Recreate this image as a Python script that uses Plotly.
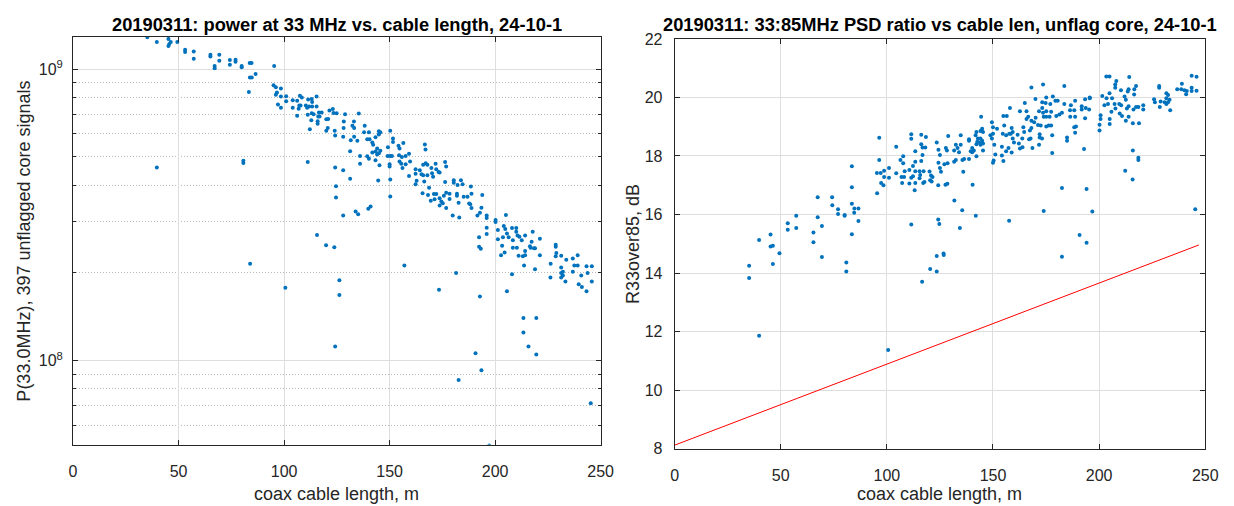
import plotly.graph_objects as go

W, H = 1234, 506

# ---------------- data ----------------
# left panel: coax cable length (m) and power at 33 MHz (units of 1e8)
power_len = [
    35.2, 39.7, 45.2, 46.3, 45.2, 45.6, 49.4, 53.1, 53.1, 57.2, 57.2, 65.1, 65.1, 69.3, 69.3, 67.1, 67.1,
    74.3, 74.3, 77.0, 77.0, 79.9, 79.9, 83.7, 84.6, 83.8, 84.7, 86.5, 95.3, 83.3, 95.0, 96.1, 98.5, 96.6,
    96.1, 98.5, 101.0, 101.0, 97.1, 98.5, 104.1, 106.2, 107.5, 108.4, 104.1, 107.2, 107.8, 106.9, 106.2,
    111.4, 113.1, 115.4, 113.3, 110.3, 110.9, 111.9, 113.3, 115.4, 113.1, 111.2, 114.0, 116.5, 117.8,
    116.2, 116.8, 112.9, 115.9, 115.9, 120.0, 120.9, 121.5, 123.1, 123.4, 124.9, 112.2, 120.7, 120.0,
    124.0, 124.2, 111.2, 39.7, 80.7, 80.7, 124.2, 124.6, 124.6, 115.6, 119.9, 123.8,
    128.9, 135.4, 128.3, 133.1,
    128.2, 132.4, 133.2, 138.2, 137.9, 140.2, 144.9, 145.6, 144.9, 128.0, 131.6, 133.2, 134.7, 139.4,
    140.5, 141.8, 143.3, 142.2, 150.3, 151.6, 151.6, 154.2, 154.7, 156.5, 149.2, 166.7, 167.0, 144.1,
    143.3, 144.9, 145.6, 144.1, 141.8, 139.4, 140.2, 136.0, 131.3, 136.0, 143.3, 145.2, 149.1, 150.3,
    151.1, 150.0, 150.0, 154.5, 155.8, 157.6, 159.2, 154.7, 155.5, 157.6, 156.1, 159.7, 159.2, 150.3,
    150.3, 144.6, 162.3, 162.3, 162.3, 162.8, 164.3, 165.1, 165.9, 167.1, 167.9, 165.9, 166.4, 167.9,
    168.7, 169.8, 170.1, 170.6, 171.8, 172.1, 173.2, 173.7, 176.3, 176.8, 176.3, 165.6, 168.2, 171.0,
    172.1, 169.5, 171.3, 173.7, 174.5, 173.7, 175.2, 175.7, 176.8, 178.4, 178.4, 176.8, 179.9, 180.4,
    180.4, 182.2, 181.9, 181.9, 182.7, 183.8, 184.6, 185.1, 183.0, 186.9, 188.5, 188.8, 187.7, 188.8,
    188.2, 193.9, 193.5, 192.8, 191.6, 196.0, 196.0, 192.4, 196.0, 196.0, 192.4, 193.2, 200.2, 200.2,
    201.3, 201.3, 204.1, 205.1, 204.8, 205.6, 206.4, 203.7, 203.3, 202.8, 204.5, 208.0, 210.0, 210.0,
    208.4, 210.6, 211.5, 212.6, 214.2, 208.4, 210.3, 211.1, 213.1, 214.2, 214.2, 216.5, 216.8, 217.8,
    217.3, 218.4, 218.9, 213.7, 218.9, 221.2, 221.2, 226.3, 226.2, 228.7, 228.7, 229.0, 228.7, 231.3,
    231.3, 231.3, 231.3, 232.1, 232.1, 233.3, 233.7, 236.8, 236.8, 237.5, 239.1, 239.1, 239.6, 241.1,
    240.8, 243.3, 245.8, 243.8, 245.8, 243.3, 126.2, 126.2, 128.0, 133.9, 135.1, 139.9, 141.0, 131.3,
    128.0, 157.0, 181.5, 173.4, 192.8, 205.6, 208.0,
    83.9, 100.6, 124.2, 182.7, 190.7, 193.5, 197.2, 213.4, 219.5, 213.4, 215.8, 219.5, 245.3,
]
power_1e8 = [
    12.86, 12.4, 12.7, 12.4, 12.0, 12.2, 12.4, 11.65, 11.45, 11.5, 10.85, 11.2, 11.05, 11.2, 10.68, 10.26, 10.08,
    10.75, 10.35, 10.78, 10.6, 10.26, 10.15, 10.5, 10.5, 9.37, 9.37, 9.63, 10.26, 8.35, 8.8, 8.67, 8.58, 8.31,
    8.17, 8.06, 8.08, 7.77, 7.56, 7.38, 7.83, 7.79, 8.1, 8.0, 7.37, 7.5, 7.5, 7.31, 6.92,
    7.87, 7.9, 8.06, 7.71, 7.5, 7.38, 7.44, 7.44, 7.44, 7.06, 6.98, 7.0, 7.1, 7.1,
    6.88, 6.88, 6.68, 6.63, 6.5, 6.73, 6.75, 7.21, 7.3, 7.07, 7.06, 6.22, 6.29, 6.15,
    6.15, 5.92, 4.8, 4.6, 4.85, 4.77, 4.6, 3.97, 3.63, 2.70, 2.49, 2.45,
    7.0, 7.05, 6.62, 6.62,
    6.29, 6.4, 6.29, 6.4, 6.08, 6.08, 6.13, 6.08, 5.97, 5.86, 5.71, 5.86, 5.68, 5.75,
    5.75, 5.6, 5.84, 5.5, 6.15, 5.78, 5.63, 5.46, 5.35, 5.58, 5.4, 5.52, 5.3, 5.35,
    5.22, 5.15, 5.25, 5.1, 5.18, 5.03, 4.93, 5.04, 5.23, 4.74, 4.87, 4.68, 5.04, 5.04,
    5.04, 4.72, 4.64, 5.07, 5.0, 5.04, 5.13, 4.82, 4.74, 4.72, 4.58, 4.82, 4.3, 4.18,
    3.66, 4.15, 4.54, 4.38, 4.03, 4.14, 4.5, 4.36, 4.7, 4.76, 4.7, 4.33, 4.12, 4.33,
    3.92, 4.58, 4.4, 4.28, 4.74, 4.54, 4.44, 4.42, 4.8, 4.64, 4.1, 3.75, 3.7, 3.73,
    3.73, 3.54, 3.58, 3.61, 3.52, 3.41, 3.47, 3.68, 3.77, 3.74, 3.59, 3.34, 3.15, 4.16,
    4.08, 4.01, 3.74, 3.68, 3.48, 4.16, 4.03, 3.65, 3.1, 3.65, 3.96, 3.74, 3.46, 3.34,
    3.44, 3.7, 3.35, 3.22, 3.15, 3.15, 3.09, 2.65, 2.86, 2.72, 2.46, 2.42, 3.04, 2.99,
    2.81, 2.61, 2.9, 3.16, 2.83, 2.73, 2.65, 2.65, 2.48, 2.3, 2.35, 2.85, 2.85, 2.77,
    2.59, 2.69, 2.66, 2.59, 2.69, 2.44, 2.44, 2.29, 2.28, 2.38, 2.3, 2.47, 2.44, 2.77,
    2.56, 2.43, 2.43, 2.12, 2.06, 2.62, 2.3, 2.15, 1.93, 2.5, 2.46, 2.34, 2.28, 2.29,
    2.09, 2.0, 1.93, 2.02, 1.96, 1.87, 2.22, 2.24, 2.02, 2.12, 2.3, 2.12, 1.83, 1.79,
    1.96, 2.11, 2.11, 2.0, 1.87, 1.73, 1.89, 1.68, 3.15, 3.25, 3.18, 3.32, 3.38, 4.21,
    4.5, 2.12, 2.0, 1.75, 1.66, 1.73, 1.98,
    2.15, 1.78, 1.12, 0.859, 1.06, 0.927, 0.512, 1.40, 1.40, 1.25, 1.12, 1.05, 0.715,
]

# right panel: coax cable length (m) and 33:85 MHz PSD ratio (dB)
ratio_len = [
    203.4, 204.9, 208.1, 207.6, 207.6, 214.2, 210.3, 213.9, 213.5, 217.4, 216.6, 216.5, 204.9, 201.5,
    203.5, 206.1, 204.2, 202.5, 207.3, 209.5, 212.0, 212.6, 210.4, 213.9, 213.1, 207.7, 205.8, 209.7,
    210.8, 213.9, 212.6, 216.2, 217.4, 218.5, 220.8, 220.8, 215.9, 218.8, 200.7, 200.7, 205.0, 205.0,
    200.2, 200.2, 228.3, 228.3, 231.7, 232.5, 231.7, 225.9, 226.3, 229.0, 230.9, 233.2, 232.5, 231.7,
    228.6, 233.5, 236.8, 239.0, 238.7, 240.2, 241.0, 243.6, 245.9, 243.6, 243.6, 245.9, 241.3,
    168.1, 173.6, 183.6, 170.0, 175.1, 178.2, 179.4, 180.5, 188.7, 193.4, 195.6, 195.6, 173.2, 174.8,
    177.0, 183.6, 186.7, 191.8, 193.7, 191.8, 195.3, 188.3, 186.3, 173.2, 175.1, 177.4, 158.0, 165.0,
    165.8, 171.7, 173.6, 154.9, 156.5, 162.7, 166.6, 165.8, 170.1, 173.9, 175.1, 176.7, 179.8, 181.3,
    182.5, 186.4, 188.7, 193.4, 168.1, 169.4, 171.2, 172.5, 176.3, 177.4, 175.1, 188.3, 189.1, 188.7,
    177.9, 172.0, 167.4, 168.1, 164.3, 164.7, 163.8, 167.0, 167.7, 172.0, 173.1, 171.7, 168.6, 161.6,
    162.2, 163.9, 159.9, 159.3, 158.8, 158.4, 155.3, 154.6, 156.2, 159.3, 157.3, 154.2, 154.2, 150.6,
    151.1, 150.0, 149.5, 151.9, 150.0, 148.8, 149.5, 184.9, 184.9, 192.9, 177.9, 150.3, 144.4, 144.9,
    144.1, 145.3, 142.2, 141.8, 142.9, 144.1, 144.9, 145.3, 143.8, 142.6, 144.1, 142.2, 145.3, 140.2,
    138.7, 138.7, 134.8, 134.8, 132.5, 133.3, 134.0, 131.7, 128.9, 127.8, 128.3, 140.2, 139.5, 141.0,
    142.2, 136.4, 138.7, 135.6, 132.5, 131.7, 128.6, 127.1, 125.5, 136.0, 150.0, 154.9, 156.2, 158.8,
    162.7, 157.7, 215.9, 218.5, 218.5, 212.3,
    96.4, 104.4, 111.5, 111.5, 116.2, 118.4, 123.5, 116.2, 116.8, 118.1, 113.4, 124.3, 125.0, 96.4,
    106.4, 107.7, 107.7, 113.4, 116.2, 116.8, 124.3, 112.3, 101.0, 98.7, 95.3, 97.1, 104.4, 108.4,
    110.6, 113.4, 115.4, 115.7, 117.3, 120.1, 120.8, 121.5, 120.4, 121.1, 125.0, 124.2, 98.7, 97.3,
    98.4, 101.0, 106.9, 108.1, 107.2, 110.6, 111.5, 112.3, 113.4, 113.1, 115.4, 117.1, 117.7, 95.4,
    111.5, 124.2, 124.7, 123.5, 120.4, 123.5, 83.5,
    35.1, 35.1, 39.8, 45.2, 45.2, 46.3, 49.4, 46.3, 53.3, 53.3, 57.3, 57.3, 65.4, 65.4, 67.4, 67.4,
    69.4, 69.4, 74.2, 74.3, 77.0, 77.0, 80.1, 80.1, 80.9, 80.9, 83.5, 83.5, 84.7, 86.6, 84.6, 86.6, 83.5,
    127.6, 128.5, 131.8, 135.5, 134.4, 141.9, 140.4, 157.6, 173.9, 182.5, 194.1, 196.8, 190.8, 194.1,
    182.5, 215.8, 245.3, 39.8, 100.6, 116.6, 126.7, 126.8,
]
ratio_db = [
    20.72, 20.72, 20.56, 20.44, 20.33, 20.70, 20.25, 20.28, 20.2, 20.39, 20.28, 20.1, 20.14, 20.05,
    19.97, 19.97, 19.78, 19.73, 19.78, 19.78, 20.03, 19.92, 19.73, 19.7, 19.62, 19.62, 19.51, 19.45,
    19.37, 19.34, 19.2, 19.59, 19.67, 19.67, 19.73, 19.59, 19.12, 19.12, 19.39, 19.26, 19.26, 19.09,
    19.07, 18.87, 20.39, 20.33, 20.14, 20.08, 19.97, 19.94, 19.84, 19.86, 19.84, 19.92, 19.84, 19.78,
    19.67, 19.56, 20.28, 20.47, 20.28, 20.25, 20.11, 20.74, 20.71, 20.33, 20.22, 20.23, 20.22,
    20.34, 20.44, 20.39, 19.95, 20.0, 20.03, 19.89, 19.89, 19.89, 19.94, 19.97, 20.0, 19.84, 19.81,
    19.78, 19.78, 19.73, 19.7, 19.64, 19.59, 19.59, 19.56, 19.56, 19.64, 19.53, 19.51, 19.64, 19.81,
    19.53, 19.53, 19.48, 19.37, 19.37, 19.53, 19.34, 19.26, 19.31, 19.34, 19.34, 19.34, 19.37, 19.42,
    19.48, 19.34, 19.34, 19.29, 19.2, 19.15, 19.06, 19.04, 19.04, 19.04, 19.01, 18.98, 19.01, 18.79,
    18.71, 18.74, 18.87, 18.96, 18.98, 18.82, 18.6, 18.57, 18.6, 18.63, 18.6, 18.38, 18.27, 18.73,
    18.43, 18.3, 18.46, 18.82, 18.96, 18.76, 19.04, 18.76, 18.71, 18.6, 18.27, 18.32, 18.02, 18.38,
    18.05, 18.98, 19.15, 18.93, 18.76, 18.71, 18.6, 18.63, 18.52, 18.24, 18.1, 17.85, 19.34, 18.93,
    18.85, 18.82, 18.82, 18.71, 18.6, 18.6, 18.52, 18.43, 18.46, 18.49, 18.38, 18.4, 18.19, 18.13,
    18.52, 18.57, 18.71, 18.38, 18.38, 18.27, 18.13, 18.19, 18.68, 18.27, 18.19, 18.27, 18.16, 18.19,
    17.99, 17.9, 17.9, 17.86, 17.86, 17.8, 17.75, 17.72, 17.46, 17.46, 17.77, 17.83, 18.16, 18.12,
    18.26, 18.76, 18.19, 17.94, 17.86, 17.5,
    18.62, 18.32, 18.74, 18.59, 18.73, 18.65, 18.46, 18.4, 18.29, 18.29, 18.16, 18.21, 18.03, 17.86,
    17.86, 17.99, 17.75, 17.8, 17.83, 18.03, 17.77, 17.66, 17.59, 17.5, 17.42, 17.42, 17.41, 17.48,
    17.52, 17.48, 17.48, 17.35, 17.48, 17.47, 17.33, 17.28, 17.17, 17.13, 17.59, 17.0, 17.28, 17.08,
    17.0, 17.26, 17.28, 17.28, 17.08, 17.06, 17.26, 17.31, 17.08, 16.83, 17.24, 17.08, 17.11, 16.73,
    15.66, 15.83, 15.68, 14.58, 14.14, 14.05, 17.65,
    14.25, 13.83, 15.13, 15.32, 14.91, 14.93, 14.68, 14.31, 15.7, 15.48, 15.96, 15.54, 15.39, 15.05, 16.59, 15.91,
    15.61, 14.55, 16.59, 16.32, 16.18, 16.02, 15.98, 15.96, 14.36, 14.05, 16.93, 16.37, 16.21, 16.21, 16.06, 15.78, 15.33,
    17.02, 17.05, 16.48, 16.15, 15.54, 15.96, 17.02, 15.79, 16.12, 16.91, 16.87, 16.1, 15.3, 15.04,
    14.56, 17.2, 16.18, 11.86, 11.37, 13.7, 14.67, 14.62,
]

# red reference line in the right panel
fit_len = [0, 247]
fit_db = [8.12, 14.96]

x_tick_vals = [0, 50, 100, 150, 200, 250]
p_tick_vals = [1e8, 1e9]
p_tick_text = ["10<sup>8</sup>", "10<sup>9</sup>"]
p_minor_vals = [6e7, 7e7, 8e7, 9e7, 2e8, 3e8, 4e8, 5e8, 6e8, 7e8, 8e8, 9e8]
r_tick_vals = [8, 10, 12, 14, 16, 18, 20, 22]

title_left = "20190311: power at 33 MHz vs. cable length, 24-10-1"
title_right = "20190311: 33:85MHz PSD ratio vs cable len, unflag core, 24-10-1"
xlabel = "coax cable length, m"
ylabel_left = "P(33.0MHz), 397 unflagged core signals"
ylabel_right = "R33over85, dB"

# ---------------- layout geometry (pixels) ----------------
L = dict(x0=70, x1=605, y0=30, y1=452)
R = dict(x0=680, x1=1218, y0=32, y1=456)


def dx(a, b):
    return [a / W, b / W]


def dy(top, bot):
    return [1 - bot / H, 1 - top / H]


FONT = "Liberation Sans, Arial, Helvetica, sans-serif"
AX = "#262626"
power = [v * 1e8 for v in power_1e8]

fig = go.Figure()
fig.add_trace(go.Scatter(x=power_len, y=power, mode="markers",
                         marker=dict(size=4, color="#0072BD", line=dict(width=0)),
                         xaxis="x", yaxis="y", showlegend=False, hoverinfo="x+y"))
fig.add_trace(go.Scatter(x=ratio_len, y=ratio_db, mode="markers",
                         marker=dict(size=4, color="#0072BD", line=dict(width=0)),
                         xaxis="x2", yaxis="y2", showlegend=False, hoverinfo="x+y"))
fig.add_trace(go.Scatter(x=fit_len, y=fit_db, mode="lines",
                         line=dict(color="#FF0000", width=1),
                         xaxis="x2", yaxis="y2", showlegend=False, hoverinfo="skip"))

common = dict(showline=True, linecolor=AX, linewidth=1, mirror="ticks", ticks="inside",
              ticklen=5, tickcolor=AX, tickwidth=1, showgrid=True, gridcolor="#dedede",
              gridwidth=1, zeroline=False,
              tickfont=dict(family=FONT, size=16, color=AX))

fig.update_layout(
    width=W, height=H, margin=dict(l=0, r=0, t=0, b=0),
    paper_bgcolor="white", plot_bgcolor="white", showlegend=False,
    xaxis=dict(domain=dx(L["x0"], L["x1"]), anchor="y", range=[0, 250],
               tickmode="array", tickvals=x_tick_vals, ticklabelstandoff=12, **common),
    yaxis=dict(domain=dy(L["y0"], L["y1"]), anchor="x", type="log",
               range=[7.7116, 9.1104], tickmode="array", tickvals=p_tick_vals,
               ticktext=p_tick_text, ticklabelstandoff=6,
               minor=dict(tickmode="array", tickvals=p_minor_vals, ticks="inside", ticklen=3,
                          tickcolor=AX, showgrid=True, griddash="1px,2px", gridcolor="#b8b8b8",
                          gridwidth=1),
               **common),
    xaxis2=dict(domain=dx(R["x0"], R["x1"]), anchor="y2", range=[0, 250],
                tickmode="array", tickvals=x_tick_vals, ticklabelstandoff=12, **common),
    yaxis2=dict(domain=dy(R["y0"], R["y1"]), anchor="x2", range=[8, 22],
                tickmode="array", tickvals=r_tick_vals, ticklabelstandoff=8, **common),
)

ann = []
ann.append(dict(text="<b>%s</b>" % title_left, x=(L["x0"] + L["x1"]) / 2 / W, y=1 - 17 / H,
                xref="paper", yref="paper", xanchor="center", yanchor="middle", showarrow=False,
                font=dict(family=FONT, size=18.3, color="black")))
ann.append(dict(text="<b>%s</b>" % title_right, x=(R["x0"] + R["x1"]) / 2 / W, y=1 - 17 / H,
                xref="paper", yref="paper", xanchor="center", yanchor="middle", showarrow=False,
                font=dict(family=FONT, size=18.3, color="black")))
for p in (L, R):
    ann.append(dict(text=xlabel, x=(p["x0"] + p["x1"]) / 2 / W, y=1 - 503 / H,
                    xref="paper", yref="paper", xanchor="center", yanchor="middle",
                    showarrow=False, font=dict(family=FONT, size=18, color=AX)))
ann.append(dict(text=ylabel_left, x=20 / W, y=1 - (L["y0"] + L["y1"]) / 2 / H, textangle=-90,
                xref="paper", yref="paper", xanchor="center", yanchor="middle",
                showarrow=False, font=dict(family=FONT, size=18, color=AX)))
ann.append(dict(text=ylabel_right, x=638 / W, y=1 - (R["y0"] + R["y1"]) / 2 / H, textangle=-90,
                xref="paper", yref="paper", xanchor="center", yanchor="middle",
                showarrow=False, font=dict(family=FONT, size=18, color=AX)))
fig.update_layout(annotations=ann)

fig.write_html("out.html")
